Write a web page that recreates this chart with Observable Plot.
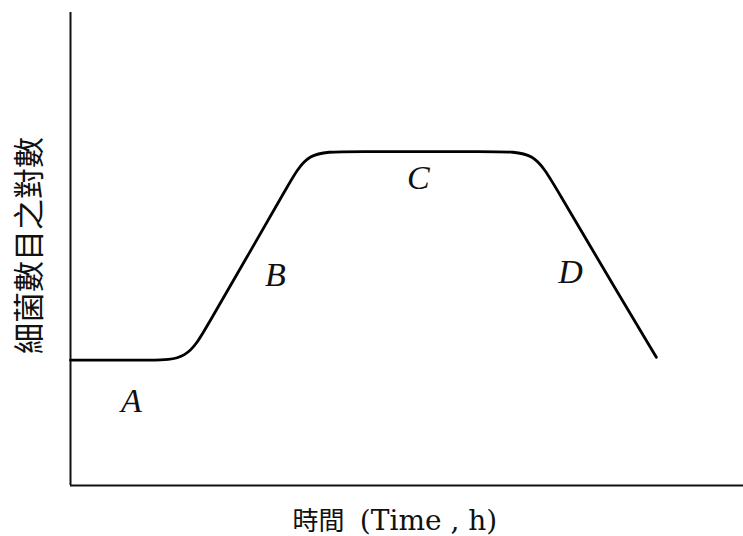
<!DOCTYPE html>
<html>
<head>
<meta charset="utf-8">
<script src="https://cdn.jsdelivr.net/npm/d3@7"></script>
<script src="https://cdn.jsdelivr.net/npm/@observablehq/plot@0.6"></script>
<style>
  html, body { margin: 0; padding: 0; background: #fff; }
  #chart svg { display: block; }
</style>
</head>
<body>
<div id="chart"></div>
<script>
// Growth curve control points (time in arbitrary hours, log of bacterial count, arbitrary units)
const timeValues = [0, 1.2, 2.35, 3.48, 4.04, 5.26, 6.48, 7.04, 8.17, 12.66, 13.79, 14.37, 16.34, 17.41];
const logCountValues = [2.65, 2.65, 2.65, 2.65, 3.35, 4.85, 6.36, 7.06, 7.06, 7.06, 7.06, 6.36, 3.98, 2.71];

// Phase labels
const phaseNames = ["A", "B", "C", "D"];
const phaseTime = [1.81, 6.09, 10.34, 14.86];
const phaseLog = [1.78, 4.45, 6.5, 4.51];

const xLabelZh = "時間";
const xLabelEn = "(Time , h)";
const yLabel = "細菌數目之對數";

const curve = timeValues.map((t, i) => ({t, v: logCountValues[i]}));
const phases = phaseNames.map((n, i) => ({n, t: phaseTime[i], v: phaseLog[i]}));

const W = 743, H = 536;
const ML = 70, MT = 12, MB = 51;
const frameCx = (ML + W) / 2;
const frameCy = (MT + (H - MB)) / 2;

const chart = Plot.plot({
  width: W,
  height: H,
  marginLeft: ML,
  marginRight: 0,
  marginTop: MT,
  marginBottom: MB,
  style: {background: "#fff", overflow: "visible"},
  x: {domain: [0, 20], axis: null},
  y: {domain: [0, 10], axis: null},
  marks: [
    Plot.ruleX([0], {stroke: "#111", strokeWidth: 2}),
    Plot.ruleY([0], {stroke: "#111", strokeWidth: 2}),
    Plot.line(curve, {x: "t", y: "v", curve: "basis", stroke: "#000", strokeWidth: 2.8}),
    Plot.text(phases, {
      x: "t", y: "v", text: "n",
      fontSize: 34, fontStyle: "italic",
      fontFamily: "'Liberation Serif', 'DejaVu Serif', serif",
      fill: "#111"
    }),
    Plot.text([xLabelZh], {
      frameAnchor: "bottom", dx: 318 - frameCx, dy: 36,
      lineAnchor: "middle", textAnchor: "middle",
      text: d => d, fontSize: 26,
      fontFamily: "'Noto Sans CJK TC', sans-serif",
      fill: "#111"
    }),
    Plot.text([xLabelEn], {
      frameAnchor: "bottom", dx: 428 - frameCx, dy: 36,
      lineAnchor: "middle", textAnchor: "middle",
      text: d => d, fontSize: 28,
      fontFamily: "'DejaVu Serif', 'Liberation Serif', serif",
      fill: "#111"
    }),
    Plot.text([yLabel], {
      frameAnchor: "left", dx: -40, dy: 245 - frameCy,
      textAnchor: "middle", lineAnchor: "middle",
      rotate: -90, text: d => d, fontSize: 31,
      fontFamily: "'Noto Sans CJK TC', sans-serif",
      fill: "#111"
    })
  ]
});
document.getElementById("chart").appendChild(chart);
</script>
</body>
</html>
